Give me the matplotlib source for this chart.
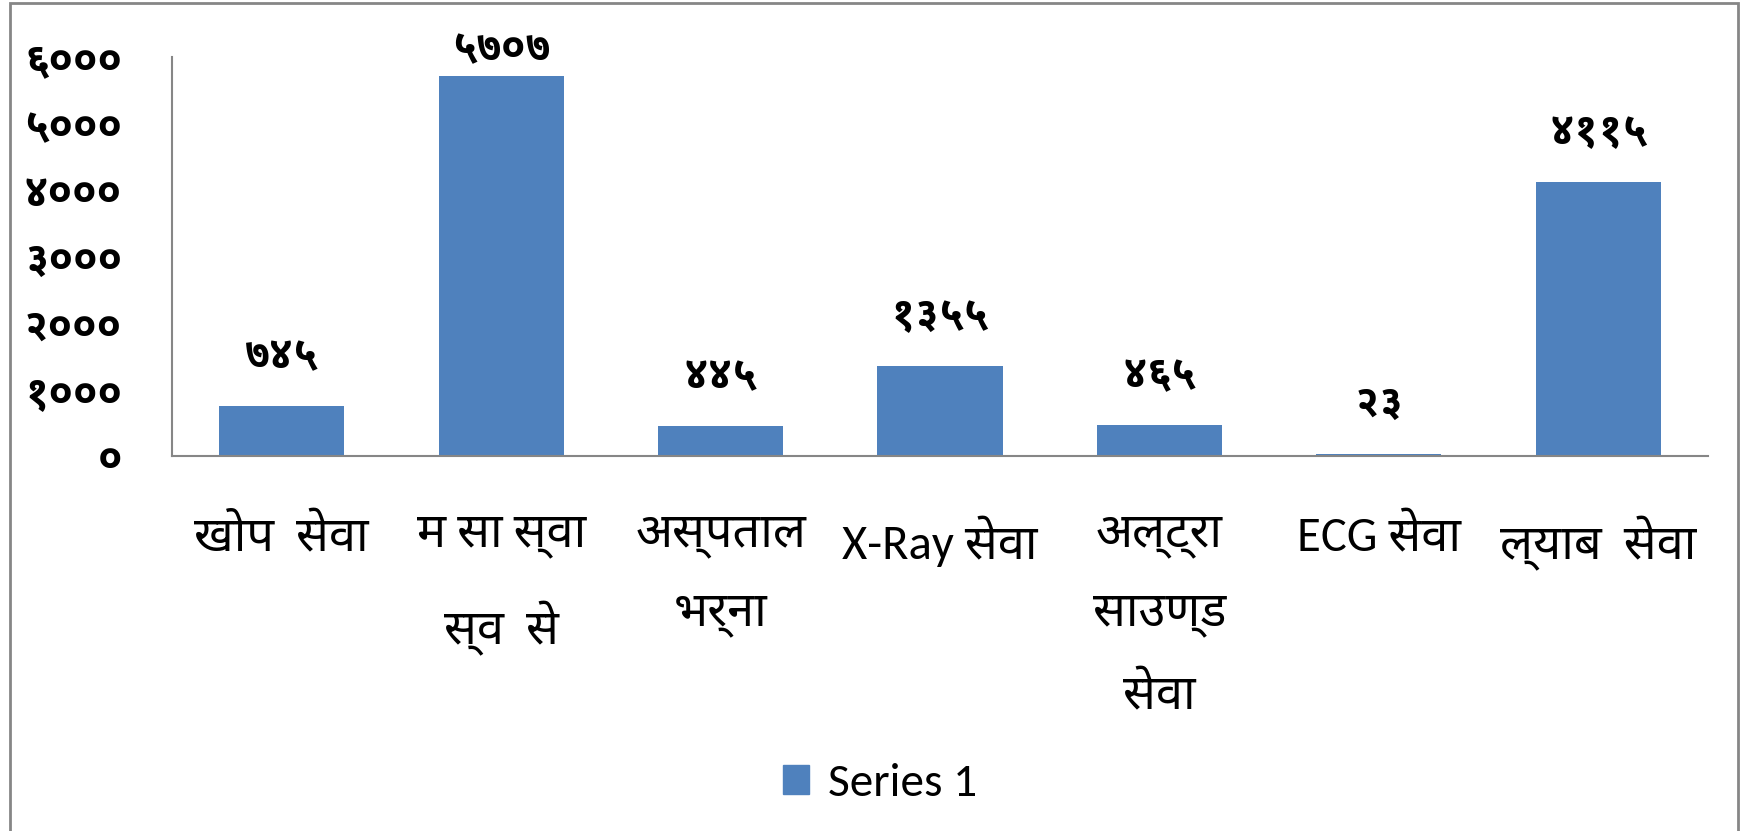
import matplotlib
matplotlib.use("Agg")
import matplotlib.pyplot as plt
from matplotlib.patches import Rectangle, Patch

# सेवा अनुसार सेवाग्राही संख्या
categories = ["खोप  सेवा", "म सा स्वा\nस्व  से", "अस्पताल\nभर्ना", "X-Ray सेवा",
              "अल्ट्रा\nसाउण्ड\nसेवा", "ECG सेवा", "ल्याब  सेवा"]
values = [745, 5707, 445, 1355, 465, 23, 4115]
yticks = [0, 1000, 2000, 3000, 4000, 5000, 6000]
series_name = "Series 1"

deva = str.maketrans("0123456789", "०१२३४५६७८९")
fonts = ["Carlito", "Noto Sans Devanagari", "DejaVu Sans"]
numfonts = ["Noto Sans Devanagari UI", "Noto Sans Devanagari", "DejaVu Sans"]
plt.rcParams["font.family"] = fonts

fig = plt.figure(figsize=(17.5, 8.31), dpi=100)
ax = fig.add_axes([0.0983, 0.4513, 0.8777, 0.4801])

x = range(len(values))
bars = ax.bar(x, values, width=0.57, color="#4F81BD", zorder=2)

# excel puts the labels above the bar, but keeps them inside the chart area
for xi, v in zip(x, values):
    ax.text(xi, min(v + 740, 6100), str(v).translate(deva), ha="center", va="center",
            fontsize=31, fontweight="bold", family=numfonts)

ax.set_xlim(-0.5, len(values) - 0.5)
ax.set_ylim(0, 6000)
ax.set_yticks(yticks)
ax.set_yticklabels([str(t).translate(deva) for t in yticks], fontsize=31,
                   fontweight="bold", family=numfonts)
ax.set_xticks(list(x))
ax.set_xticklabels(categories, fontsize=35, linespacing=2.0, va="top")
ax.tick_params(axis="y", length=0, pad=36)
ax.tick_params(axis="x", length=0, pad=43)

for s in ["top", "right"]:
    ax.spines[s].set_visible(False)
for s in ["left", "bottom"]:
    ax.spines[s].set_color("#868686")
    ax.spines[s].set_linewidth(1.5)

fig.legend(handles=[Patch(color="#4F81BD", label=series_name)], loc="center",
           bbox_to_anchor=(0.503, 0.057), frameon=False, fontsize=34,
           handlelength=0.55, handleheight=0.55, handletextpad=0.4)

fig.patches.append(Rectangle((10 / 1750, -0.05), 1728 / 1750, 1.05 - 3 / 831,
                             transform=fig.transFigure, fill=False,
                             edgecolor="#868686", linewidth=2))

fig.savefig("out.png", dpi=100)
